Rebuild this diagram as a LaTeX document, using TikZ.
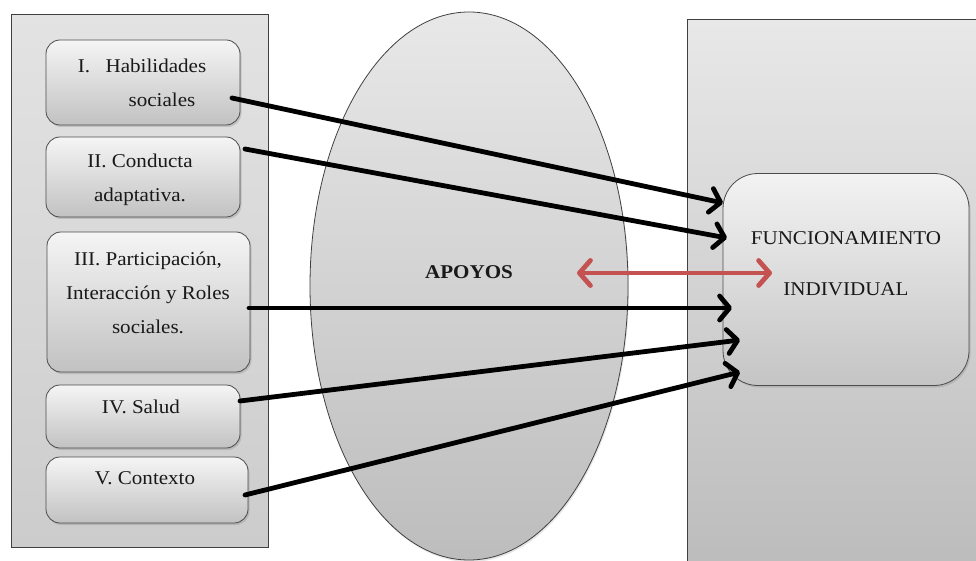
\documentclass[tikz,border=0pt]{standalone}
\usepackage{fontspec}
\setmainfont[FakeStretch=1.08]{Liberation Serif}
\usetikzlibrary{arrows.meta,shapes.geometric,shadows}
\definecolor{redarrow}{RGB}{196,82,80}
\begin{document}
\begin{tikzpicture}[x=1pt,y=-1pt,
  panel/.style={draw=black!75, line width=0.9pt, inner sep=0pt, anchor=north west},
  box/.style={draw=black!70, line width=0.8pt, rounded corners=14pt, top color=black!4, bottom color=black!24, inner sep=0pt,
    drop shadow={opacity=0.3, shadow xshift=1.5pt, shadow yshift=-2pt}},
  lbl/.style={font=\fontsize{19.5}{34}\selectfont, align=center, inner sep=0pt, text=black!90},
  arr/.style={line width=4.8pt, line cap=round, -{Straight Barb[length=10pt,width=24pt,round]}},
  redarr/.style={line width=4.8pt, draw=redarrow, line cap=round, {Straight Barb[length=11pt,width=25pt,round]}-{Straight Barb[length=11pt,width=25pt,round]}}
]
\useasboundingbox (0,0) rectangle (976,561);
\clip (0,0) rectangle (976,561);

% panels
\node[panel, top color=black!11, bottom color=black!20, minimum width=257pt, minimum height=533pt] (lp) at (11,14) {};
\node[panel, top color=black!9, bottom color=black!27, minimum width=320pt, minimum height=570pt] (rp) at (687,19) {};

% ellipse
\node[ellipse, draw=black!75, line width=0.8pt, minimum width=318pt, minimum height=548pt, inner sep=0pt,
  top color=black!9, bottom color=black!26, drop shadow={opacity=0.2, shadow xshift=1pt, shadow yshift=-2pt}] (ap) at (469,286) {};
\node[lbl, font=\fontsize{19.5}{34}\selectfont\bfseries] (apt) at (469,272) {APOYOS};

% left boxes
\node[box, minimum width=194pt, minimum height=85pt] (b1) at (143,82.5) {};
\node[box, minimum width=194pt, minimum height=80pt] (b2) at (143,177) {};
\node[box, minimum width=203pt, minimum height=140pt] (b3) at (148.5,302) {};
\node[box, minimum width=194pt, minimum height=63pt] (b4) at (143,416.5) {};
\node[box, minimum width=202pt, minimum height=66pt] (b5) at (147,490) {};

\node[lbl] (t1) at (142,82.5) {I.\hspace{0.8em}Habilidades\\\hspace*{40pt}sociales};
\node[lbl] (t2) at (140,180) {II. Conducta\\adaptativa.};
\node[lbl] (t3) at (148,293) {III. Participación,\\Interacción y Roles\\sociales.};
\node[lbl] (t4) at (141,407) {IV. Salud};
\node[lbl] (t5) at (145,478) {V. Contexto};

% right box
\node[box, rounded corners=35pt, minimum width=246pt, minimum height=212pt, top color=black!5, bottom color=black!23] (f) at (846,279.5) {};
\node[lbl] (ft) at (846,263.5) {FUNCIONAMIENTO\\[17pt]INDIVIDUAL};

% arrow end points
\coordinate (s1) at (232,98);  \coordinate (e1) at (723,203);
\coordinate (s2) at (245,149); \coordinate (e2) at (727,238);
\coordinate (s3) at (249,308); \coordinate (e3) at (732,308);
\coordinate (s4) at (240,401); \coordinate (e4) at (740,340);
\coordinate (s5) at (245,495); \coordinate (e5) at (740,372);
\coordinate (r1) at (577,273); \coordinate (r2) at (772,273);

\draw[arr] (s1) -- (e1);
\draw[arr] (s2) -- (e2);
\draw[arr] (s3) -- (e3);
\draw[arr] (s4) -- (e4);
\draw[arr] (s5) -- (e5);
\draw[redarr] (r1) -- (r2);
\end{tikzpicture}
\end{document}
